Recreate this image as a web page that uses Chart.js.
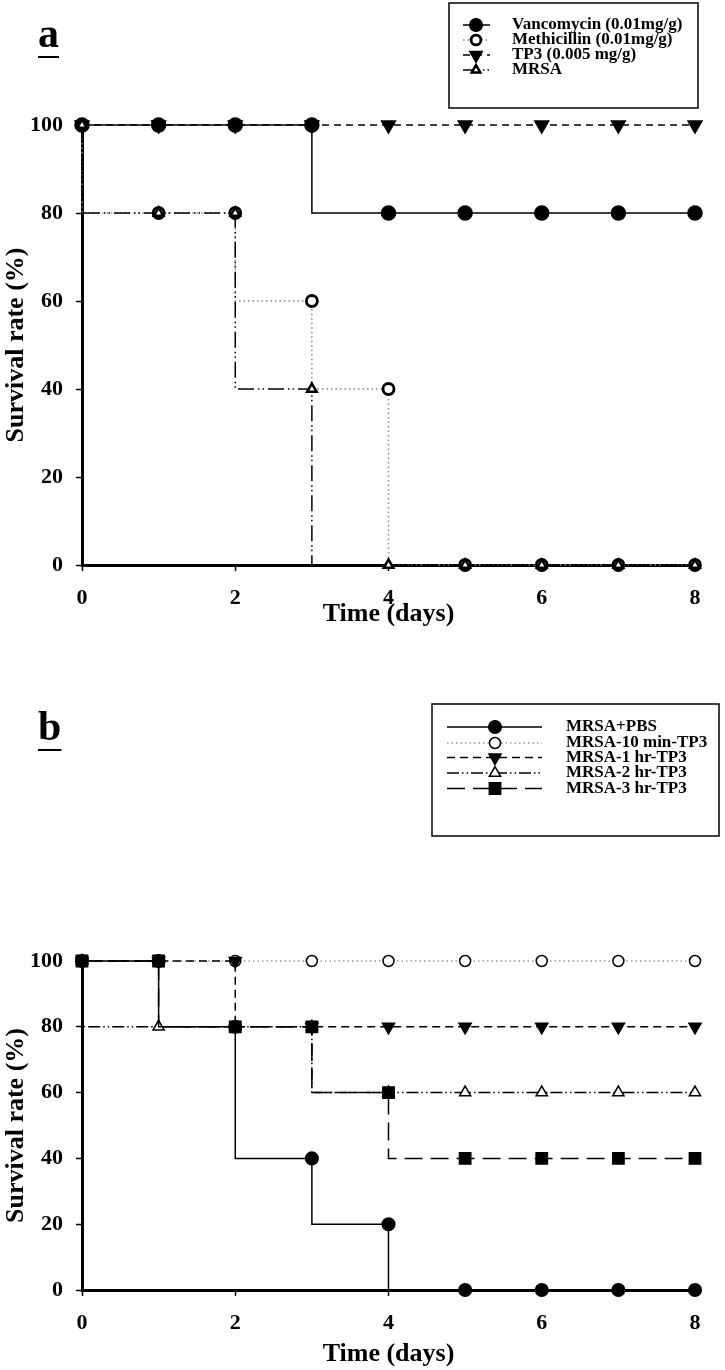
<!DOCTYPE html>
<html><head><meta charset="utf-8">
<script src="https://cdn.jsdelivr.net/npm/chart.js@4.4.0/dist/chart.umd.min.js"></script>
<style>
html,body{margin:0;padding:0;background:#fff;}
#wrap{position:relative;width:725px;height:1370px;overflow:hidden;}
.cv{position:absolute;left:0;width:725px;}
.lbl{position:absolute;font-family:'Liberation Serif','Times New Roman',serif;font-weight:bold;font-size:42px;line-height:42px;text-decoration:underline;text-decoration-thickness:2px;text-underline-offset:9px;color:#000;}
</style></head><body>
<div id="wrap">
<div class="cv" style="top:0;height:650px"><canvas id="ca"></canvas></div>
<div class="cv" style="top:650px;height:720px"><canvas id="cb"></canvas></div>
<div class="lbl" style="left:38px;top:12px">a</div>
<div class="lbl" style="left:38px;top:705px">b</div>
</div>
<script>
// ---- data ----
const days = [0, 1, 2, 3, 4, 5, 6, 7, 8];
const xTicks = [0, 2, 4, 6, 8];
const yTicks = [0, 20, 40, 60, 80, 100];

// panel a
const labelsA = ['Vancomycin (0.01mg/g)', 'Methicillin (0.01mg/g)', 'TP3 (0.005 mg/g)', 'MRSA'];
const vancomycin = [100, 100, 100, 100, 80, 80, 80, 80, 80];
const methicillin = [100, 80, 80, 60, 40, 0, 0, 0, 0];
const tp3 = [100, 100, 100, 100, 100, 100, 100, 100, 100];
const mrsa = [100, 80, 80, 40, 0, 0, 0, 0, 0];

// panel b
const labelsB = ['MRSA+PBS', 'MRSA-10 min-TP3', 'MRSA-1 hr-TP3', 'MRSA-2 hr-TP3', 'MRSA-3 hr-TP3'];
const pbs = [100, 100, 80, 40, 20, 0, 0, 0, 0];
const tp3min10 = [100, 100, 100, 100, 100, 100, 100, 100, 100];
const tp3hr1 = [100, 100, 100, 80, 80, 80, 80, 80, 80];
const tp3hr2 = [100, 80, 80, 80, 60, 60, 60, 60, 60];
const tp3hr3 = [100, 100, 80, 80, 60, 40, 40, 40, 40];

const xTitle = 'Time (days)';
const yTitle = 'Survival rate (%)';

// ---- helpers ----
const FONT = "'Liberation Serif', 'Times New Roman', serif";
Chart.defaults.font.family = FONT;
Chart.defaults.font.weight = 'bold';
Chart.defaults.color = '#000';

const pts = ys => days.map((d, i) => ({x: d, y: ys[i]}));

function ds(label, ys, o) {
  return Object.assign({
    label, data: pts(ys), stepped: 'after', clip: false,
    borderColor: '#000', borderWidth: 1.5, borderDash: [],
    pointBorderColor: '#000', pointBackgroundColor: '#000',
    pointBorderWidth: 1.5, pointRadius: 6, pointStyle: 'circle', pointRotation: 0,
    fill: false, tension: 0
  }, o);
}

const boxLegend = {
  id: 'boxLegend',
  afterDraw(chart, args, o) {
    const ctx = chart.ctx;
    ctx.save();
    ctx.lineWidth = o.boxWidth;
    ctx.strokeStyle = '#000';
    ctx.setLineDash([]);
    ctx.strokeRect(o.box[0], o.box[1], o.box[2] - o.box[0], o.box[3] - o.box[1]);
    ctx.font = 'bold ' + o.fontSize + 'px ' + FONT;
    ctx.textBaseline = 'middle';
    ctx.textAlign = 'left';
    chart.data.datasets.forEach((d, i) => {
      const y = o.rows[i];
      ctx.save();
      ctx.beginPath();
      ctx.setLineDash(d.borderDash || []);
      ctx.lineWidth = d.borderWidth;
      ctx.strokeStyle = d.borderColor;
      ctx.moveTo(o.line[0], y);
      ctx.lineTo(o.line[1], y);
      ctx.stroke();
      ctx.restore();
      ctx.save();
      ctx.setLineDash([]);
      ctx.fillStyle = d.pointBackgroundColor;
      ctx.strokeStyle = d.pointBorderColor;
      ctx.lineWidth = d.pointBorderWidth;
      Chart.helpers.drawPoint(ctx, {pointStyle: d.pointStyle, radius: d.pointRadius * o.markerScale,
        rotation: d.pointRotation || 0, borderWidth: d.pointBorderWidth}, o.marker, y);
      ctx.restore();
      ctx.fillStyle = '#000';
      ctx.fillText(d.label, o.textX, y);
    });
    ctx.restore();
  }
};

function makeChart(id, datasets, L, legendOpts) {
  return new Chart(document.getElementById(id), {
    type: 'line',
    data: {datasets},
    options: {
      responsive: true, maintainAspectRatio: false, animation: false, events: [],
      layout: {padding: {left: 0, top: L.top, right: 30, bottom: L.bottom}},
      plugins: {legend: {display: false}, tooltip: {enabled: false}, boxLegend: legendOpts},
      scales: {
        x: {
          type: 'linear', min: 0, max: 8,
          afterBuildTicks: s => { s.ticks = xTicks.map(v => ({value: v})); },
          afterFit: s => { s.height = L.xh; },
          border: {display: true, width: 3, color: '#000'},
          grid: {display: true, drawOnChartArea: false, drawTicks: true, tickLength: 6, tickWidth: 1.5, tickColor: '#000'},
          ticks: {color: '#000', font: {size: 22, weight: 'bold'}, padding: L.xpad, maxRotation: 0, autoSkip: false},
          title: {display: true, text: xTitle, color: '#000', font: {size: 26, weight: 'bold'}, padding: {top: 0, bottom: L.tpad}}
        },
        y: {
          type: 'linear', min: 0, max: 100,
          afterBuildTicks: s => { s.ticks = yTicks.map(v => ({value: v})); },
          afterFit: s => { s.width = 82; },
          border: {display: true, width: 3, color: '#000'},
          grid: {display: true, drawOnChartArea: false, drawTicks: true, tickLength: 6, tickWidth: 1.5, tickColor: '#000'},
          ticks: {color: '#000', font: {size: 22, weight: 'bold'}, padding: 13},
          title: {display: true, text: yTitle, color: '#000', font: {size: 26, weight: 'bold'}, padding: {top: 1, bottom: 0}}
        }
      }
    },
    plugins: [boxLegend]
  });
}

// panel a
makeChart('ca', [
  ds(labelsA[0], vancomycin, {order: 1, pointRadius: 7}),
  ds(labelsA[1], methicillin, {order: 2, borderColor: '#888', borderDash: [1.5, 3], pointBackgroundColor: '#fff', pointBorderWidth: 2.8, pointRadius: 5.5}),
  ds(labelsA[2], tp3, {order: 3, borderDash: [7, 5], pointStyle: 'triangle', pointRotation: 180, pointRadius: 8}),
  ds(labelsA[3], mrsa, {order: 0, borderDash: [16, 4, 1.5, 3, 1.5, 4], pointStyle: 'triangle', pointBackgroundColor: '#fff', pointBorderWidth: 2.5, pointRadius: 5.5})
], {top: 125, bottom: 15, xh: 70, xpad: 14, tpad: 5},
{box: [449, 3, 698, 108], boxWidth: 1.5, line: [463, 490], marker: 476, textX: 512, rows: [25, 40, 55, 70], fontSize: 17, markerScale: 0.9});

// panel b
makeChart('cb', [
  ds(labelsB[0], pbs, {order: 3, pointRadius: 6.3}),
  ds(labelsB[1], tp3min10, {order: 4, borderColor: '#999', borderDash: [1.5, 3], pointBackgroundColor: '#fff', pointBorderWidth: 1.5, pointRadius: 5.5}),
  ds(labelsB[2], tp3hr1, {order: 2, borderDash: [8, 5], pointStyle: 'triangle', pointRotation: 180, pointRadius: 7}),
  ds(labelsB[3], tp3hr2, {order: 1, borderDash: [12, 3, 1.5, 3, 1.5, 3], pointStyle: 'triangle', pointBackgroundColor: '#fff', pointBorderWidth: 1.5, pointRadius: 6.5}),
  ds(labelsB[4], tp3hr3, {order: 0, borderDash: [18, 8], pointStyle: 'rect', pointRadius: 8})
], {top: 311, bottom: 0, xh: 80, xpad: 14, tpad: 0},
{box: [432, 54, 719, 186], boxWidth: 1.5, line: [447, 542], marker: 495, textX: 566, rows: [77, 93, 107.5, 123, 138.5], fontSize: 17, markerScale: 1});
</script>
</body></html>
